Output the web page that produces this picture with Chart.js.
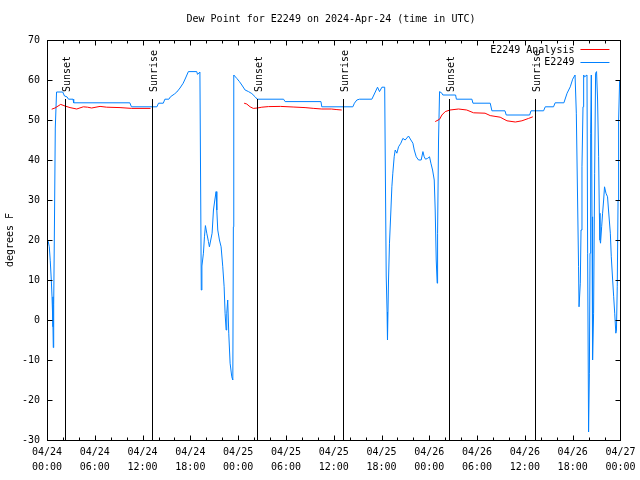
<!DOCTYPE html>
<html>
<head>
<meta charset="utf-8">
<script src="https://cdn.jsdelivr.net/npm/chart.js@4/dist/chart.umd.min.js"></script>
<style>
  html, body { margin: 0; padding: 0; background: #fff; }
  canvas { display: block; }
</style>
</head>
<body>
<canvas id="c" width="640" height="480"></canvas>
<script>
// ---- data (hours since 2024-04-24 00:00 UTC, degrees F) ----
const obsHours = [0.02,0.16,0.29,0.41,0.54,0.63,0.75,0.79,0.84,0.94,1.04,1.2,1.97,2.2,2.5,2.7,3.27,3.35,10.4,10.6,13.8,14.0,14.6,14.8,15.3,15.5,16.0,16.3,16.7,17.1,17.4,17.75,18.8,18.9,19.2,19.31,19.37,19.45,19.64,19.77,19.89,20.06,20.27,20.39,20.56,20.73,20.9,21.07,21.23,21.32,21.44,21.65,21.86,22.07,22.24,22.36,22.49,22.57,22.69,22.82,22.99,23.2,23.33,23.4,23.45,23.83,24.16,24.46,24.87,25.3,25.72,26.13,26.4,29.7,29.9,34.4,34.5,38.4,38.6,38.9,39.24,40.79,41.1,41.5,41.75,42.05,42.4,42.46,42.59,42.7,42.75,42.88,43.0,43.18,43.3,43.42,43.59,43.72,43.93,44.14,44.43,44.68,44.97,45.39,45.69,45.94,46.11,46.36,46.65,46.98,47.2,47.36,47.53,47.78,48.03,48.2,48.41,48.62,48.74,48.87,48.99,49.04,49.16,49.29,49.58,49.7,51.3,51.4,53.35,53.48,55.65,55.86,57.5,57.66,60.6,60.77,62.35,62.56,63.6,63.8,64.9,65.3,65.7,66.0,66.3,66.46,66.6,66.74,66.8,66.96,67.05,67.17,67.3,67.38,67.5,67.8,67.88,68.0,68.1,68.18,68.26,68.34,68.43,68.5,68.63,68.76,68.88,69.0,69.13,69.26,69.35,69.43,69.5,69.64,69.76,69.89,70.0,70.18,70.38,70.5,70.73,70.85,71.02,71.15,71.28,71.42,71.5,71.6,71.7,71.77,71.9];
const obsValues = [20,19.6,18.3,14.8,10,5.8,-1.7,-6.9,3.8,25,48,57,57,56,55.8,55.2,55.2,54.3,54.3,53.3,53.3,54.2,54.2,55.2,55.2,55.8,56.5,57,58,59.2,60.5,62.1,62.1,61.4,62.0,27.5,7.5,13.5,16.7,20.8,23.6,21.7,19.6,18.3,20,21.7,27.5,30,32.1,27.5,22.5,20,18.3,13.3,8.3,1.7,-2.5,1.7,5,-3.3,-10.8,-14.2,-15,23.3,61.25,60.4,59.6,58.75,57.5,57.1,56.6,55.8,55.2,55.2,54.6,54.6,53.3,53.3,54.2,55,55.2,55.2,56.5,58.2,57.1,58.2,58.2,42.5,11,2,-5,10,19.2,27.5,33.3,36.7,40.8,42.5,41.7,43.3,44.2,45.4,45,46,45,44.2,42.5,40.8,40,40,42.1,40.8,40.2,40.4,40.8,39.2,37.5,35,27.5,15,9.2,21.7,45,57.1,56.7,56.25,56.25,55.2,55.2,54.2,54.2,52.3,52.3,51.25,51.25,52.3,52.3,53.3,53.3,54.3,54.3,56.7,58.3,60.2,61.25,51.7,32.5,13.3,3.3,9.2,22.5,38.3,53.3,61.25,60.8,61.25,16.7,-28,-13.3,16.7,46.7,61.25,25.8,-10,1.7,36.7,61.7,62.1,55,40.8,26.7,20,19.2,23.3,26.7,30,33.3,31.7,30.8,27.5,21.7,15.8,10,5.8,1.7,-3.3,-2.5,8.3,30,50,60];

const anaHours = [0.59,1.0,1.72,2.26,2.89,3.73,4.56,5.1,5.6,6.66,7.5,9.17,10.64,13.0, 18,
  24.75,25.08,25.5,25.9,26.4,26.97,27.8,29.3,30.9,32.4,33.5,34.5,35.7,36.4,37.0, 42,
  48.74,49.3,49.58,50.0,50.6,51.67,52.7,53.56,55.0,55.65,56.9,57.75,58.8,59.63,60.47,61.0];
const anaValues = [52.7,53.0,53.9,53.5,53.1,52.75,53.3,53.2,53.0,53.4,53.2,53.1,52.9,52.9, null,
  54.2,54.0,53.3,52.9,53.0,53.2,53.35,53.4,53.25,53.1,52.9,52.75,52.75,52.6,52.5, null,
  49.6,50.2,51.25,52.1,52.5,52.75,52.5,51.8,51.7,51.1,50.7,49.8,49.5,49.8,50.4,50.8];

const eventHours  = [2.27, 13.23, 26.4, 37.2, 50.5, 61.3];
const eventLabels = ['Sunset', 'Sunrise', 'Sunset', 'Sunrise', 'Sunset', 'Sunrise'];
const eventTop = 55.2, eventBottom = -30, eventLabelAt = 57;

const xTickLabels = [
  ['04/24','00:00'],['04/24','06:00'],['04/24','12:00'],['04/24','18:00'],
  ['04/25','00:00'],['04/25','06:00'],['04/25','12:00'],['04/25','18:00'],
  ['04/26','00:00'],['04/26','06:00'],['04/26','12:00'],['04/26','18:00'],
  ['04/27','00:00']
];
const titleText = 'Dew Point for E2249 on 2024-Apr-24 (time in UTC)';
const yTitle = 'degrees F';
const seriesNames = ['E2249 Analysis', 'E2249'];

// ---- build ----
const obsData = obsHours.map((h, i) => ({ x: h, y: obsValues[i] }));
const anaData = anaHours.map((h, i) => ({ x: h, y: anaValues[i] }));

const FONT = "'DejaVu Sans Mono', 'Liberation Mono', monospace";
Chart.defaults.font.family = FONT;
Chart.defaults.font.size = 10;
Chart.defaults.color = '#000';

const RED = '#ff0000', BLUE = '#0080ff';

const overlay = {
  id: 'overlay',
  afterDatasetsDraw(chart) {
    const { ctx, chartArea: a, scales: { x, y } } = chart;
    ctx.save();
    ctx.strokeStyle = '#000';
    ctx.lineWidth = 1;
    const L = Math.round(a.left) + 0.5, R = Math.round(a.right) + 0.5;
    const T = Math.round(a.top) + 0.5, B = Math.round(a.bottom) + 0.5;
    ctx.strokeRect(L, T, R - L, B - T);
    ctx.beginPath();
    for (let h = 0; h <= 72; h += 2) {
      const px = Math.round(x.getPixelForValue(h)) + 0.5;
      const len = h % 6 === 0 ? 5 : 3;
      ctx.moveTo(px, B); ctx.lineTo(px, B - len);
      ctx.moveTo(px, T); ctx.lineTo(px, T + len);
    }
    for (let v = -30; v <= 70; v += 10) {
      const py = Math.round(y.getPixelForValue(v)) + 0.5;
      ctx.moveTo(L, py); ctx.lineTo(L + 5, py);
      ctx.moveTo(R, py); ctx.lineTo(R - 5, py);
    }
    // event vertical lines
    eventHours.forEach((h) => {
      const px = Math.round(x.getPixelForValue(h)) + 0.5;
      ctx.moveTo(px, Math.round(y.getPixelForValue(eventTop)));
      ctx.lineTo(px, Math.round(y.getPixelForValue(eventBottom)));
    });
    ctx.stroke();

    ctx.fillStyle = '#000';
    ctx.font = '10px ' + FONT;
    // event labels
    eventHours.forEach((h, i) => {
      const px = Math.round(x.getPixelForValue(h));
      const py = y.getPixelForValue(eventLabelAt);
      ctx.save();
      ctx.translate(px + 2, py);
      ctx.rotate(-Math.PI / 2);
      ctx.textAlign = 'left';
      ctx.textBaseline = 'middle';
      ctx.fillText(eventLabels[i], 0, 0);
      ctx.restore();
    });

    // legend
    ctx.textAlign = 'right';
    ctx.textBaseline = 'middle';
    const lx = a.right - 46;
    ctx.fillText(seriesNames[0], lx, a.top + 10);
    ctx.fillText(seriesNames[1], lx, a.top + 22.5);
    ctx.lineWidth = 1;
    ctx.strokeStyle = RED;
    ctx.beginPath(); ctx.moveTo(a.right - 40, a.top + 9.5); ctx.lineTo(a.right - 11, a.top + 9.5); ctx.stroke();
    ctx.strokeStyle = BLUE;
    ctx.beginPath(); ctx.moveTo(a.right - 40, a.top + 22.5); ctx.lineTo(a.right - 11, a.top + 22.5); ctx.stroke();

    // title
    ctx.fillStyle = '#000';
    ctx.textAlign = 'center';
    ctx.fillText(titleText, 331, 19);

    // y title
    ctx.save();
    ctx.translate(10, (a.top + a.bottom) / 2);
    ctx.rotate(-Math.PI / 2);
    ctx.textAlign = 'center';
    ctx.textBaseline = 'middle';
    ctx.fillText(yTitle, 0, 0);
    ctx.restore();

    ctx.restore();
  }
};

new Chart(document.getElementById('c'), {
  type: 'line',
  data: {
    datasets: [
      { label: seriesNames[0], data: anaData, borderColor: RED, borderWidth: 1, pointRadius: 0, spanGaps: false, tension: 0 },
      { label: seriesNames[1], data: obsData, borderColor: BLUE, borderWidth: 1, pointRadius: 0, spanGaps: false, tension: 0 }
    ]
  },
  options: {
    responsive: false,
    animation: false,
    events: [],
    layout: { padding: { top: 40, right: 19, left: 0, bottom: 0 } },
    plugins: { legend: { display: false }, title: { display: false }, tooltip: { enabled: false } },
    scales: {
      x: {
        type: 'linear', min: 0, max: 72,
        grid: { display: false, drawTicks: false },
        border: { display: false },
        ticks: {
          stepSize: 6, autoSkip: false, maxRotation: 0, padding: 4.5,
          font: { size: 10, lineHeight: '15px' },
          callback: (v) => xTickLabels[Math.round(v / 6)]
        },
        afterFit: (s) => { s.height = 40; }
      },
      y: {
        min: -30, max: 70,
        grid: { display: false, drawTicks: false },
        border: { display: false },
        ticks: { stepSize: 10, padding: 7, font: { size: 10 } },
        afterFit: (s) => { s.width = 47; }
      }
    }
  },
  plugins: [overlay]
});
</script>
</body>
</html>
